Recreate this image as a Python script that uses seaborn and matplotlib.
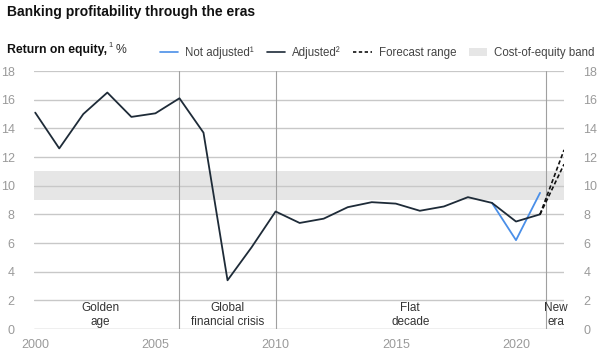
import matplotlib
matplotlib.use("Agg")
import matplotlib.pyplot as plt
import seaborn as sns
import pandas as pd
from matplotlib.lines import Line2D
from matplotlib.patches import Patch

years = list(range(2000, 2022))
adjusted = [15.1, 12.6, 15.0, 16.5, 14.8, 15.05, 16.1, 13.7, 3.4, 5.7, 8.2,
            7.4, 7.7, 8.5, 8.85, 8.75, 8.25, 8.55, 9.2, 8.8, 7.5, 8.0]
not_adj_years = [2019, 2020, 2021]
not_adjusted = [8.8, 6.2, 9.5]
fc_years = [2021, 2022]
fc_high = [8.0, 12.5]
fc_low = [8.0, 11.5]
band = (9, 11)
era_bounds = [2006, 2010, 2021.25]
era_labels = ["Golden\nage", "Global\nfinancial crisis", "Flat\ndecade", "New\nera"]
era_pos = [2002.7, 2008.0, 2015.6, 2021.65]
yticks = list(range(0, 19, 2))
xticks = [2000, 2005, 2010, 2015, 2020]

sns.set_style("white")
plt.rcParams['font.family'] = ['Liberation Sans', 'DejaVu Sans']

fig = plt.figure(figsize=(6.02, 3.57), dpi=100)
ax = fig.add_axes([0.0565, 0.0784, 0.8805, 0.7226])

navy = "#1e2b38"
blue = "#4a8fe8"
grid = "#c8c8c8"
tcol = "#9a9a9a"

ax.axhspan(band[0], band[1], color="#e6e6e6", zorder=0, lw=0)
for y in yticks[1:]:
    ax.axhline(y, color=grid, lw=1.0 if y < 18 else 1.6, zorder=1)
ax.axhline(0, color="#b0b0b0", lw=1.0, zorder=1)
for xb in era_bounds:
    ax.axvline(xb, color="#a0a0a0", lw=0.8, zorder=1)

df_a = pd.DataFrame({"year": years, "roe": adjusted})
df_n = pd.DataFrame({"year": not_adj_years, "roe": not_adjusted})
sns.lineplot(data=df_n, x="year", y="roe", ax=ax, color=blue, lw=1.3, zorder=3)
sns.lineplot(data=df_a, x="year", y="roe", ax=ax, color=navy, lw=1.3, zorder=4)
df_h = pd.DataFrame({"year": fc_years, "roe": fc_high})
df_l = pd.DataFrame({"year": fc_years, "roe": fc_low})
sns.lineplot(data=df_h, x="year", y="roe", ax=ax, color="#111111", lw=1.2, ls=(0, (2.5, 1.5)), zorder=4)
sns.lineplot(data=df_l, x="year", y="roe", ax=ax, color="#111111", lw=1.2, ls=(0, (2.5, 1.5)), zorder=4)

for lbl, xp in zip(era_labels, era_pos):
    ax.text(xp, 1.0, lbl, ha="center", va="center", fontsize=8.5, color="#333333",
            linespacing=1.25)

ax.set_xlim(1999.95, 2022)
ax.set_ylim(0, 18)
ax.set_yticks(yticks)
ax.set_xticks(xticks)
ax.set_xlabel("")
ax.set_ylabel("")
for s in ax.spines.values():
    s.set_visible(False)
ax.tick_params(axis="y", length=0, labelsize=9, colors=tcol, pad=14,
               labelleft=True, labelright=True)
ax.tick_params(axis="x", length=5, width=0.8, color="#b0b0b0", labelsize=9,
               colors=tcol, pad=2, direction="out")
for lab in ax.get_yticklabels():
    lab.set_color(tcol)

fig.text(0.012, 0.965, "Banking profitability through the eras", fontsize=10,
         fontweight="bold", color="#111111", va="center")
t = fig.text(0.012, 0.86, "Return on equity,", fontsize=8.8, fontweight="bold",
             color="#111111", va="center")
fig.canvas.draw()
bb = t.get_window_extent()
x1 = bb.x1 / fig.bbox.width
fig.text(x1 + 0.002, 0.872, "1", fontsize=5.5, color="#333333", va="center")
fig.text(x1 + 0.013, 0.86, "%", fontsize=8.8, color="#333333", va="center")

handles = [Line2D([], [], color=blue, lw=1.2),
           Line2D([], [], color=navy, lw=1.2),
           Line2D([], [], color="#111111", lw=1.2, ls=(0, (2, 1.5))),
           Patch(facecolor="#e6e6e6", edgecolor="none")]
labels = ["Not adjusted\u00b9", "Adjusted\u00b2", "Forecast range", "Cost-of-equity band"]
fig.legend(handles, labels, loc="center right", bbox_to_anchor=(1.005, 0.852), ncol=4,
           frameon=False, fontsize=8.3, handlelength=1.6, columnspacing=1.1,
           handletextpad=0.6, labelcolor="#444444")

fig.savefig("out.png", dpi=100)
